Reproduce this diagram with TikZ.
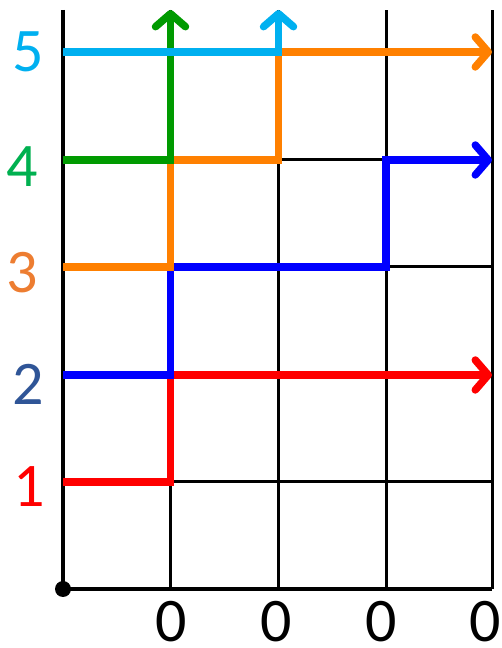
\documentclass[tikz,border=0pt]{standalone}
\usepackage{fontspec}
\setmainfont{Carlito}
\usetikzlibrary{arrows.meta}
\definecolor{cyanL}{HTML}{00B0F0}
\definecolor{greenL}{HTML}{009A00}
\definecolor{orangeL}{HTML}{FF8000}
\definecolor{blueL}{HTML}{0000FF}
\definecolor{redL}{HTML}{FF0000}
\definecolor{greenT}{HTML}{00B050}
\definecolor{orangeT}{HTML}{ED7D31}
\definecolor{blueT}{HTML}{2F5597}
\tikzset{
  gridline/.style={draw=black, line width=3pt},
  axisline/.style={draw=black, line width=3.5pt},
  pathline/.style={line width=7.5pt, line join=miter, -{Straight Barb[length=13pt,width=30pt,round]}},
  lbl/.style={inner sep=0pt, font=\fontsize{62}{62}\selectfont}
}
\begin{document}
\begin{tikzpicture}[x=1pt,y=1pt]
\useasboundingbox (0,0) rectangle (502,648);
% grid coordinates
\def\xs{{63,170.5,278.5,386,492}}
\def\ys{{59,166,273,381,488,596}}
\foreach \i in {0,...,4}{
  \foreach \j in {0,...,5}{
    \pgfmathsetmacro\xx{\xs[\i]}
    \pgfmathsetmacro\yy{\ys[\j]}
    \coordinate (p\i\j) at (\xx,\yy);
  }
  \pgfmathsetmacro\xx{\xs[\i]}
  \coordinate (t\i) at (\xx,638);
}
% grid
\foreach \j in {1,...,5}{ \draw[gridline] (p0\j) -- (p4\j); }
\foreach \i in {1,...,4}{ \draw[gridline] (p\i0) -- (t\i); }
\draw[axisline] (t0) -- (p00) -- (p40);
\fill (p00) circle (8pt);
% paths
\draw[pathline, redL] (p01) -- (p11) -- (p12) -- (p42);
\draw[pathline, blueL] (p02) -- (p12) -- (p13) -- (p33) -- (p34) -- (p44);
\draw[pathline, orangeL] (p03) -- (p13) -- (p14) -- (p24) -- (p25) -- (p45);
\draw[pathline, greenL] (p04) -- (p14) -- (t1);
\draw[pathline, cyanL] (p05) -- (p25) -- (t2);
% labels
\node[lbl, text=cyanL] (l5) at (28,596) {5};
\node[lbl, text=greenT] (l4) at (22,481) {4};
\node[lbl, text=orangeT] (l3) at (22,375) {3};
\node[lbl, text=blueT] (l2) at (28,264) {2};
\node[lbl, text=redL] (l1) at (29,161) {1};
\node[lbl] (z1) at (171,26) {0};
\node[lbl] (z2) at (276,26) {0};
\node[lbl] (z3) at (381,26) {0};
\node[lbl] (z4) at (485,26) {0};
\end{tikzpicture}
\end{document}
